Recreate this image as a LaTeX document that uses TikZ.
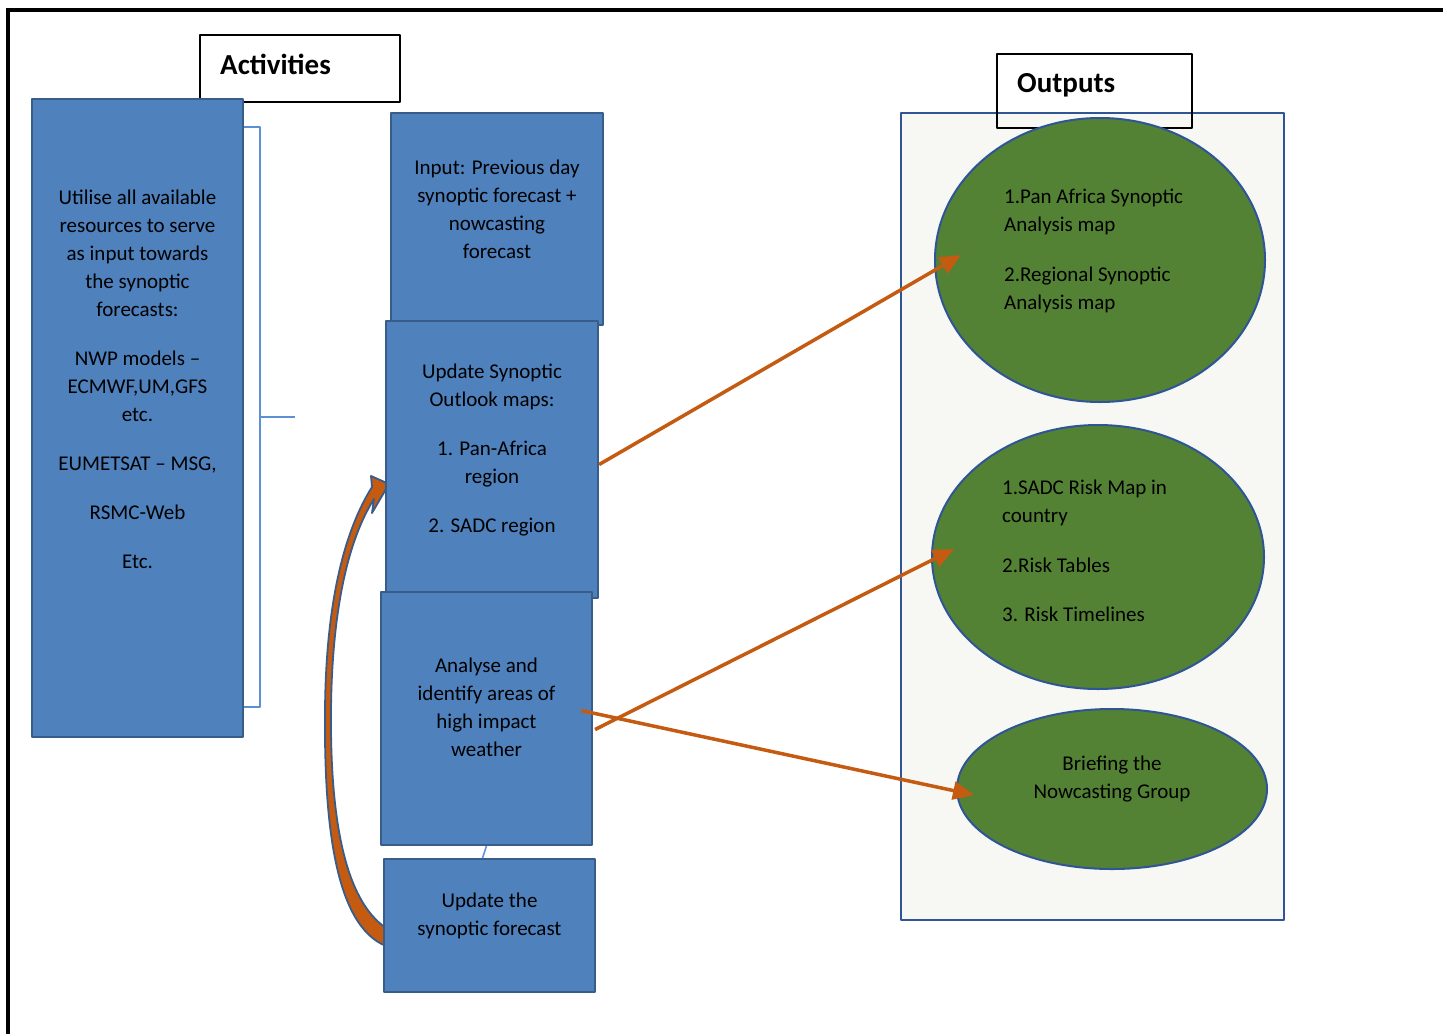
\documentclass[tikz,border=0pt]{standalone}
\usepackage{fontspec}
\setmainfont{Carlito}
\usetikzlibrary{shapes.geometric,arrows.meta,calc}
\definecolor{boxfill}{HTML}{4F81BD}
\definecolor{boxline}{HTML}{385D8A}
\definecolor{brk}{HTML}{5B8FD6}
\definecolor{ovfill}{HTML}{548235}
\definecolor{ovline}{HTML}{2F5597}
\definecolor{arr}{HTML}{C55A11}
\definecolor{panfill}{HTML}{F7F8F3}
\tikzset{
  blbox/.style={draw=boxline,fill=boxfill,line width=2.2pt,inner sep=0pt},
  txt/.style={inner sep=0pt,align=center,font=\fontsize{21}{28}\selectfont},
  ltxt/.style={txt,align=left,anchor=west},
  head/.style={draw=black,line width=2pt,inner sep=0pt},
  htxt/.style={inner sep=0pt,anchor=west,font=\fontsize{29}{34}\selectfont\bfseries},
  oval/.style={ellipse,draw=ovline,fill=ovfill,line width=2pt,inner sep=0pt},
  oarr/.style={draw=arr,line width=3.5pt,-{Triangle[length=21pt,width=18pt]}},
  brkt/.style={draw=brk,line width=2pt},
}
\begin{document}
\begin{tikzpicture}[x=1pt,y=-1pt,line join=round]
  \useasboundingbox[fill=white] (0,0) rectangle (1443,1034);
  \draw[line width=4pt,line join=miter] (8,1034) -- (8,10) -- (1443,10);
  % activities
  \node (acts) [head,minimum width=200,minimum height=67] at (300,68.5) {};
  \node (acts-t) [htxt] at ($(acts.west)+(21,-4.5)$) {Activities};
  \node (res) [blbox,minimum width=211,minimum height=638] at (137.5,418) {};
  \node (res-t) [txt] at ($(res)+(0,-39)$) {Utilise all available\\resources to serve\\as input towards\\the synoptic\\forecasts:\\[21pt]NWP models –\\ECMWF,UM,GFS\\etc.\\[21pt]EUMETSAT – MSG,\\[21pt]RSMC-Web\\[21pt]Etc.};
  \coordinate (tick) at (295,417);
  \draw[brkt] (res.east |- 0,127) -- (260,127) -- (260,707) -- (res.east |- 0,707);
  \draw[brkt] (260,417) -- (tick);
  % curved arrow back up
  \filldraw[fill=arr,draw=boxline,line width=1.8pt]
    (386,946) .. controls (334,925) and (324,820) .. (325,710)
    .. controls (326,600) and (345,530) .. (372,487)
    -- (371,476) -- (389,484) -- (372,513) -- (374,499)
    .. controls (348,540) and (332,610) .. (331,710)
    .. controls (330,820) and (345,900) .. (386,928) -- cycle;
  \node (inp) [blbox,minimum width=212,minimum height=212] at (497,219) {};
  \node (upd) [blbox,minimum width=212,minimum height=277] at (492,459.5) {};
  \node (ana) [blbox,minimum width=211,minimum height=253] at (486.5,718.5) {};
  \node (fcst) [blbox,minimum width=211,minimum height=133] at (489.5,925.5) {};
  \draw[brk,line width=1.5pt] (ana.south) -- ([xshift=-7pt]fcst.north);
  \node (inp-t) [txt] at ($(inp)+(0,-10)$) {Input: Previous day\\synoptic forecast +\\nowcasting\\forecast};
  \node (upd-t) [txt] at ($(upd)+(0,-9.5)$) {Update Synoptic\\Outlook maps:\\[21pt]1. Pan-Africa\\region\\[21pt]2. SADC region};
  \node (ana-t) [txt] at ($(ana)+(0,-11.5)$) {Analyse and\\identify areas of\\high impact\\weather};
  \node (fcst-t) [txt] at ($(fcst)+(0,-10)$) {Update the\\synoptic forecast};
  % outputs
  \node (panel) [draw=ovline,fill=panfill,line width=2pt,minimum width=383,minimum height=807] at (1092.5,516.5) {};
  \node (outs) [head,minimum width=195,minimum height=74] at (1094.5,91) {};
  \node (outs-t) [htxt] at ($(outs.west)+(21,-6)$) {Outputs};
  \node (pan) [oval,minimum width=330,minimum height=284] at (1100,260) {};
  \node (risk) [oval,minimum width=332,minimum height=264] at (1098,557) {};
  \node (brief) [oval,minimum width=310,minimum height=160] at (1112,789) {};
  \node (pan-t) [ltxt] at ($(pan.west)+(70,-9)$) {1.Pan Africa Synoptic\\Analysis map\\[22pt]2.Regional Synoptic\\Analysis map};
  \node (risk-t) [ltxt] at ($(risk.west)+(71,-6.5)$) {1.SADC Risk Map in\\country\\[22pt]2.Risk Tables\\[21pt]3. Risk Timelines};
  \node (brief-t) [txt] at ($(brief)+(0,-10)$) {Briefing the\\Nowcasting Group};
  % arrows
  \draw[oarr] ([yshift=-5pt]upd.east) -- ([xshift=27pt,yshift=5pt]pan.west);
  \draw[oarr] ([xshift=2pt,yshift=-11pt]ana.east) -- ([xshift=23pt,yshift=8pt]risk.west);
  \draw[oarr] ([xshift=-12pt,yshift=8pt]ana.east) -- ([xshift=18pt,yshift=-6pt]brief.west);
\end{tikzpicture}
\end{document}
